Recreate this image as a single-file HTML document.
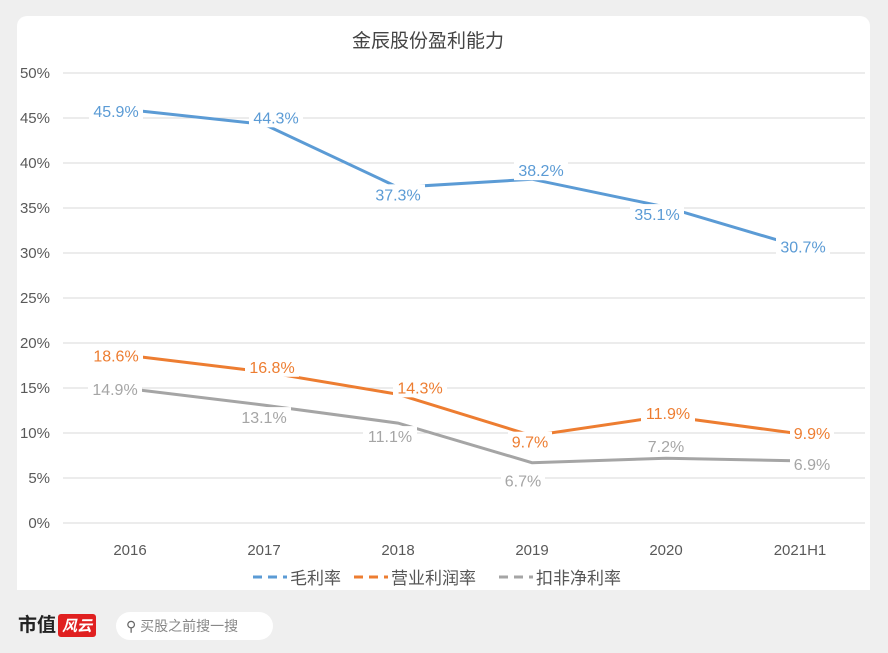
<!DOCTYPE html>
<html><head><meta charset="utf-8"><style>
body{margin:0;width:888px;height:653px;background:#efefef;overflow:hidden;font-family:"Liberation Sans","Noto Sans CJK SC",sans-serif}
#panel{position:absolute;left:17px;top:16px;width:853px;height:574px;background:#fff;border-radius:10px 10px 0 0}
#footer{position:absolute;left:0;top:592px;width:888px;height:61px;background:#efefef}
</style></head><body>
<div id="panel"></div>
<svg id="chart" width="888" height="653" style="position:absolute;left:0;top:0">
<text x="428" y="47" text-anchor="middle" font-size="19" fill="#444">金辰股份盈利能力</text>
<g id="grid"></g><g id="series"></g><g id="labels"></g>
<g font-size="17" fill="#555">
<line x1="253" y1="577" x2="287" y2="577" stroke="#5b9bd5" stroke-width="3" stroke-dasharray="9,6"/><text x="290" y="584">毛利率</text>
<line x1="354" y1="577" x2="388" y2="577" stroke="#ed7d31" stroke-width="3" stroke-dasharray="9,6"/><text x="391" y="584">营业利润率</text>
<line x1="499" y1="577" x2="533" y2="577" stroke="#a5a5a5" stroke-width="3" stroke-dasharray="9,6"/><text x="536" y="584">扣非净利率</text>
</g>
</svg>
<div id="footer">
<div style="position:absolute;left:18px;top:18px;font-size:19px;font-weight:bold;color:#222">市值<span style="display:inline-block;background:#e02020;color:#fff;font-style:italic;font-size:15px;padding:1px 4px;border-radius:3px;margin-left:2px">风云</span></div>
<div style="position:absolute;left:116px;top:20px;width:157px;height:28px;background:#fff;border-radius:14px;font-size:14px;color:#888;line-height:28px;text-indent:10px"><span style="color:#666">&#9906;</span> 买股之前搜一搜</div>
</div>
<script>
const categories=["2016","2017","2018","2019","2020","2021H1"];
const grossMargin=[45.9,44.3,37.3,38.2,35.1,30.7];
const opMargin=[18.6,16.8,14.3,9.7,11.9,9.9];
const netMargin=[14.9,13.1,11.1,6.7,7.2,6.9];
const yTicks=[0,5,10,15,20,25,30,35,40,45,50];
const NS="http://www.w3.org/2000/svg";
const xs=i=>130+i*134, ys=v=>523-9*v;
function mk(t,a,p){const e=document.createElementNS(NS,t);for(const k in a)e.setAttribute(k,a[k]);p.appendChild(e);return e;}
const grid=document.getElementById('grid');
yTicks.forEach(v=>{
 const l=mk('line',{x1:63,x2:865,y1:ys(v),y2:ys(v),stroke:'#d9d9d9'},grid);
 
 
 const t=mk('text',{x:50,y:ys(v)+5,'text-anchor':'end','font-size':15,fill:'#595959'},grid);
 t.textContent=v+'%';
 
 
});
categories.forEach((c,i)=>{
 const t=mk('text',{x:xs(i),y:555,'text-anchor':'middle','font-size':15,fill:'#595959'},grid);
 t.textContent=c;
 
 
});
const S=document.getElementById('series'),L=document.getElementById('labels');
const offs={g:[[-14,1],[12,-7],[0,7],[9,-9],[-9,7],[3,0]],o:[[-14,0],[8,-5],[22,-7],[-2,6],[2,-3],[12,-1]],n:[[-15,0],[0,12],[-8,13],[-9,18],[0,-12],[12,3]]};
[[grossMargin,'#5b9bd5','g','gross-margin'],[opMargin,'#ed7d31','o','operating-margin'],[netMargin,'#a5a5a5','n','net-margin']].forEach(([d,col,k,name])=>{
 const p=mk('polyline',{points:d.map((v,i)=>xs(i)+','+ys(v)).join(' '),fill:'none',stroke:col,'stroke-width':3},S);
 
 
 d.forEach((v,i)=>{
  const [dx,dy]=offs[k][i];
  const cx=xs(i)+dx, cy=ys(v)+dy;
  const w=v>=10?50:40;
  mk('rect',{x:cx-w/2-2,y:cy-10,width:w+4,height:20,fill:'#fff'},L);
  const t=mk('text',{x:cx,y:cy+6,'text-anchor':'middle','font-size':16,fill:col},L);
  t.textContent=v.toFixed(1)+'%';
  
  
 });
});
</script>
</body></html>
